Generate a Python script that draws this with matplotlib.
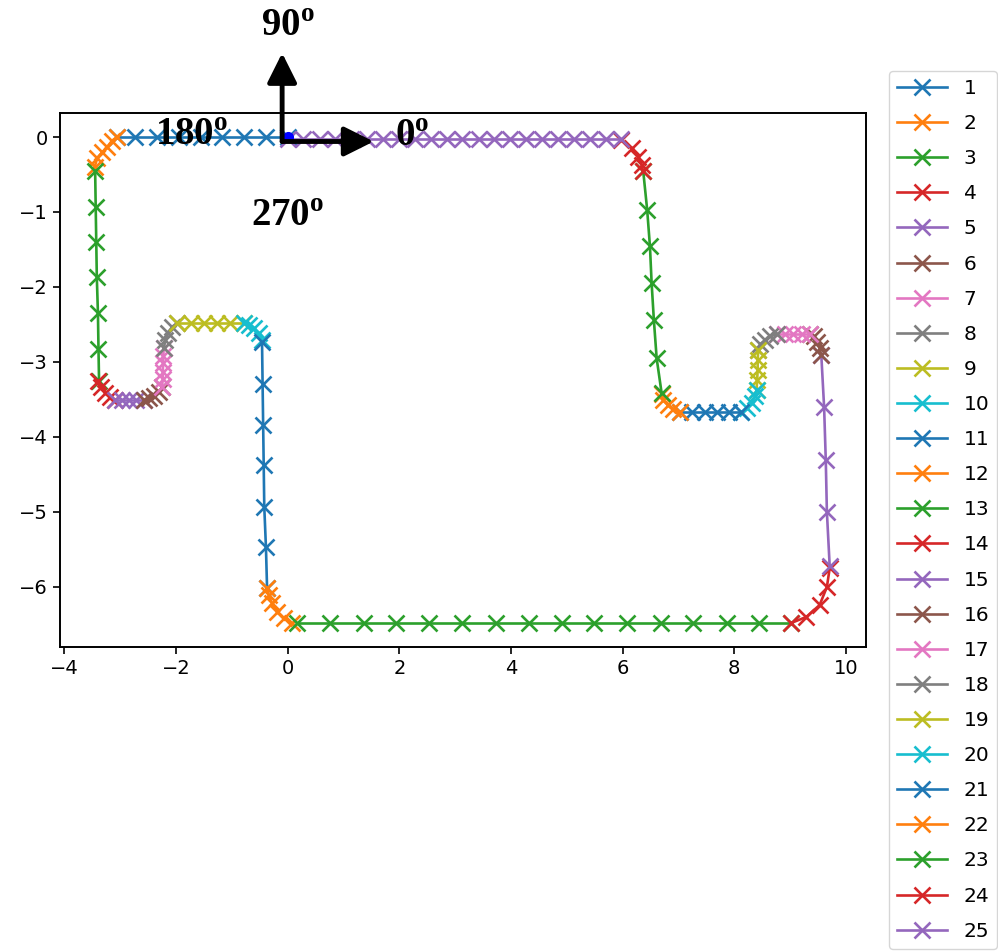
import matplotlib
matplotlib.use('Agg')
import matplotlib.pyplot as plt

plt.rcParams['mathtext.fontset'] = 'custom'
plt.rcParams['mathtext.rm'] = 'Liberation Serif:bold'
plt.rcParams['mathtext.bf'] = 'Liberation Serif:bold'

# path segments
seg1_x = [0.00, -0.39, -0.78, -1.17, -1.56, -1.95, -2.34, -2.73, -3.06]
seg1_y = [0.0] * 9
seg2_x = [-3.06, -3.15, -3.23, -3.32, -3.41, -3.46]
seg2_y = [0.00, -0.05, -0.13, -0.20, -0.28, -0.40]
seg3_x = [-3.45, -3.44, -3.43, -3.42, -3.40, -3.39, -3.38]
seg3_y = [-0.45, -0.93, -1.40, -1.87, -2.35, -2.83, -3.25]
seg4_x = [-3.39, -3.35, -3.27, -3.18, -3.09]
seg4_y = [-3.25, -3.33, -3.41, -3.47, -3.51]
seg5_x = [-3.09, -2.96, -2.84, -2.71, -2.58]
seg5_y = [-3.51] * 5
seg6_x = [-2.58, -2.49, -2.40, -2.31, -2.25]
seg6_y = [-3.51, -3.48, -3.45, -3.40, -3.34]
seg7_x = [-2.25, -2.24, -2.24, -2.23, -2.23, -2.22]
seg7_y = [-3.34, -3.23, -3.13, -3.02, -2.92, -2.81]
seg8_x = [-2.22, -2.19, -2.15, -2.07, -1.98]
seg8_y = [-2.81, -2.71, -2.62, -2.53, -2.48]
seg9_x = [-1.98, -1.74, -1.50, -1.27, -1.03, -0.79]
seg9_y = [-2.48] * 6
seg10_x = [-0.79, -0.70, -0.61, -0.52, -0.46]
seg10_y = [-2.48, -2.51, -2.55, -2.62, -2.71]
seg11_x = [-0.46, -0.45, -0.44, -0.43, -0.42, -0.39, -0.37]
seg11_y = [-2.74, -3.29, -3.84, -4.38, -4.93, -5.47, -6.01]
seg12_x = [-0.37, -0.34, -0.28, -0.19, -0.07, 0.08]
seg12_y = [-6.01, -6.11, -6.22, -6.33, -6.42, -6.48]
seg13_x = [0.16, 0.76, 1.36, 1.94, 2.53, 3.13, 3.74, 4.32, 4.91, 5.49, 6.08, 6.68, 7.27, 7.87, 8.45, 9.02]
seg13_y = [-6.48] * 16
seg14_x = [9.02, 9.29, 9.53, 9.66, 9.71]
seg14_y = [-6.48, -6.40, -6.24, -6.00, -5.75]
seg15_x = [9.71, 9.66, 9.64, 9.61, 9.56]
seg15_y = [-5.72, -5.00, -4.31, -3.60, -2.91]
seg16_x = [9.56, 9.53, 9.49, 9.43, 9.36]
seg16_y = [-2.91, -2.82, -2.73, -2.66, -2.63]
seg17_x = [9.36, 9.21, 9.06, 8.91, 8.76]
seg17_y = [-2.63] * 5
seg18_x = [8.76, 8.64, 8.55, 8.47, 8.43]
seg18_y = [-2.63, -2.66, -2.71, -2.76, -2.84]
seg19_x = [8.43, 8.42, 8.42, 8.41, 8.40]
seg19_y = [-2.84, -2.97, -3.11, -3.24, -3.37]
seg20_x = [8.40, 8.37, 8.31, 8.22, 8.13]
seg20_y = [-3.37, -3.46, -3.55, -3.62, -3.67]
seg21_x = [8.13, 7.91, 7.69, 7.47, 7.25, 7.03]
seg21_y = [-3.67] * 6
seg22_x = [7.03, 6.91, 6.82, 6.73, 6.70]
seg22_y = [-3.67, -3.63, -3.58, -3.51, -3.43]
seg23_x = [6.70, 6.61, 6.56, 6.52, 6.49, 6.44, 6.37]
seg23_y = [-3.42, -2.95, -2.44, -1.95, -1.46, -0.97, -0.46]
seg24_x = [6.37, 6.34, 6.28, 6.16, 5.98]
seg24_y = [-0.46, -0.37, -0.26, -0.15, -0.04]
seg25_x = [5.98, 5.70, 5.41, 5.13, 4.84, 4.56, 4.27, 3.99, 3.70, 3.42, 3.13,
           2.85, 2.56, 2.28, 1.99, 1.71, 1.42, 1.14, 0.85, 0.57, 0.28, 0.00]
seg25_y = [-0.02] * 22

segments = [(seg1_x, seg1_y), (seg2_x, seg2_y), (seg3_x, seg3_y), (seg4_x, seg4_y),
            (seg5_x, seg5_y), (seg6_x, seg6_y), (seg7_x, seg7_y), (seg8_x, seg8_y),
            (seg9_x, seg9_y), (seg10_x, seg10_y), (seg11_x, seg11_y), (seg12_x, seg12_y),
            (seg13_x, seg13_y), (seg14_x, seg14_y), (seg15_x, seg15_y), (seg16_x, seg16_y),
            (seg17_x, seg17_y), (seg18_x, seg18_y), (seg19_x, seg19_y), (seg20_x, seg20_y),
            (seg21_x, seg21_y), (seg22_x, seg22_y), (seg23_x, seg23_y), (seg24_x, seg24_y),
            (seg25_x, seg25_y)]
seg_labels = [str(i) for i in range(1, 26)]

# direction labels
dir_text = ['90', '0', '180', '270']
dir_pos = [(0.01, 1.47), (2.23, 0.01), (-1.73, 0.02), (-0.01, -1.06)]

fig = plt.figure(figsize=(9.98, 9.52), dpi=100)
ax = fig.add_axes([0.0601, 0.3204, 0.8076, 0.5609])

for (sx, sy), lab in zip(segments, seg_labels):
    ax.plot(sx, sy, marker='x', lw=1.9, ms=11, mew=1.9, label=lab)

ax.plot(0, 0, 'o', color='blue', ms=7, zorder=3)

# heading arrows
arrow_kw = dict(arrowstyle='-|>,head_length=0.9,head_width=0.45', color='black',
                lw=3.5, shrinkA=0, shrinkB=0, mutation_scale=20)
ax.annotate('', xy=(-0.1, 1.12), xytext=(-0.1, -0.06), arrowprops=arrow_kw,
            annotation_clip=False, zorder=5)
ax.annotate('', xy=(1.54, -0.06), xytext=(-0.1, -0.06), arrowprops=arrow_kw,
            annotation_clip=False, zorder=5)

for t, (tx, ty) in zip(dir_text, dir_pos):
    ax.text(tx, ty, t + r'$^{\mathbf{o}}$', fontsize=28, fontweight='bold',
            family='Liberation Serif', ha='center', va='center', clip_on=False, zorder=6)

ax.set_xlim(-4.08, 10.36)
ax.set_ylim(-6.80, 0.32)
ax.set_xticks([-4, -2, 0, 2, 4, 6, 8, 10])
ax.set_yticks([-6, -5, -4, -3, -2, -1, 0])
ax.tick_params(labelsize=14, length=5, width=1.2)
for sp in ax.spines.values():
    sp.set_linewidth(1.4)

ax.legend(loc='upper left', bbox_to_anchor=(889 / 998, 1 - 71 / 952),
          bbox_transform=fig.transFigure, borderaxespad=0, fontsize=14.5,
          handlelength=2.5, labelspacing=0.8)

fig.savefig('out.png', dpi=100)
